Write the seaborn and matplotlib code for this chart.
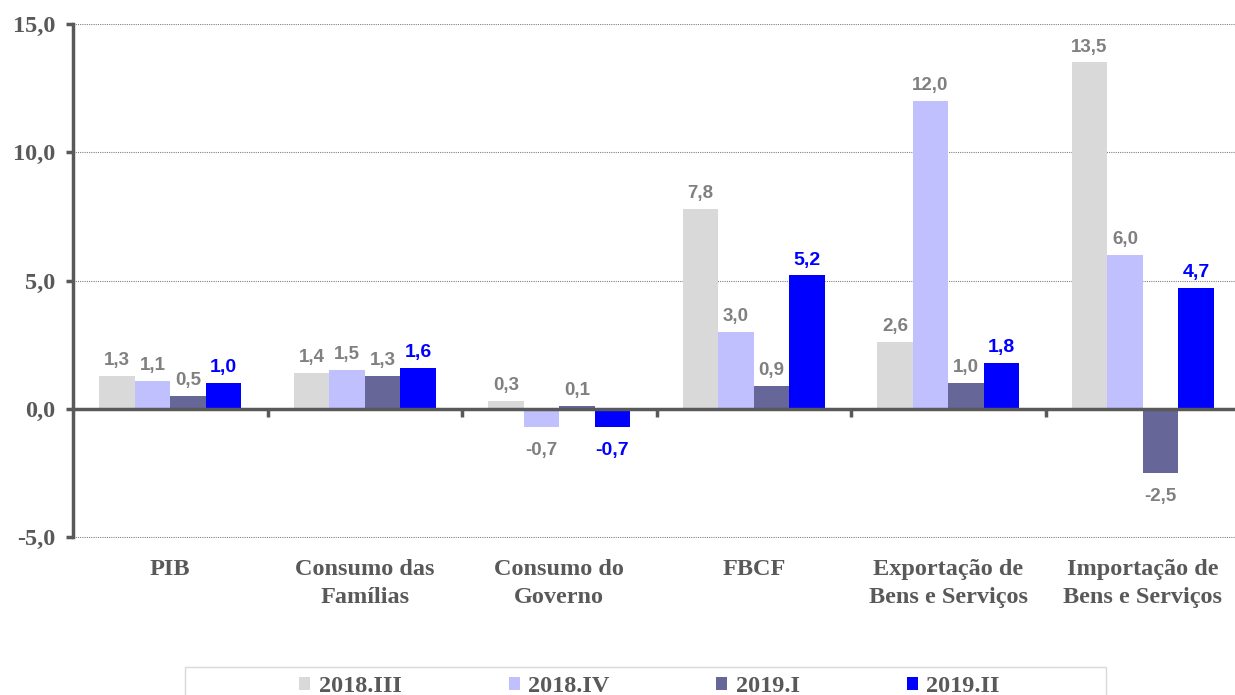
import seaborn as sns
import pandas as pd
import numpy as np
import matplotlib.pyplot as plt
from matplotlib.patches import Patch, Rectangle

sns.set_theme(style='white')
plt.rcParams['font.family'] = ['Liberation Serif', 'DejaVu Serif']

# data (variação %, trimestre contra trimestre anterior)
categorias = ['PIB', 'Consumo das\nFamílias', 'Consumo do\nGoverno', 'FBCF',
              'Exportação de\nBens e Serviços', 'Importação de\nBens e Serviços']
series = ['2018.III', '2018.IV', '2019.I', '2019.II']
v_2018_III = [1.3, 1.4, 0.3, 7.8, 2.6, 13.5]
v_2018_IV = [1.1, 1.5, -0.7, 3.0, 12.0, 6.0]
v_2019_I = [0.5, 1.3, 0.1, 0.9, 1.0, -2.5]
v_2019_II = [1.0, 1.6, -0.7, 5.2, 1.8, 4.7]
cores = ['#D9D9D9', '#C0C0FF', '#666699', '#0000FF']
y_ticks = [-5, 0, 5, 10, 15]

df = pd.DataFrame({
    'categoria': categorias * 4,
    'serie': np.repeat(series, len(categorias)),
    'valor': v_2018_III + v_2018_IV + v_2019_I + v_2019_II,
})

cinza = '#595959'
fig = plt.figure(figsize=(12.35, 6.95), dpi=100)
ax = fig.add_axes([73/1235, 1-538/695, 6*194.5/1235, (538-24)/695])

sns.barplot(data=df, x='categoria', y='valor', hue='serie', hue_order=series,
            palette=cores, width=0.73, saturation=1, errorbar=None,
            legend=False, linewidth=0, ax=ax)

# bar labels, decimal comma; negatives sit a bit further below the bar
for cont, s in zip(ax.containers, series):
    vals = [b.get_height() for b in cont]
    azul = s == '2019.II'
    kw = dict(color='#0000FF' if azul else '#808080',
              fontsize=14 if azul else 13.5, fontweight='bold',
              family='Liberation Sans')
    pos = [f'{v:.1f}'.replace('.', ',') if v >= 0 else '' for v in vals]
    neg = [f'{v:.1f}'.replace('.', ',') if v < 0 else '' for v in vals]
    ax.bar_label(cont, labels=pos, padding=5, **kw)
    ax.bar_label(cont, labels=neg, padding=11, **kw)

ax.set_ylim(-5.03, 15)
ax.set_xlim(-0.5, 5.5)
ax.set_yticks(y_ticks)
ax.set_yticklabels([f'{t:.1f}'.replace('.', ',') for t in y_ticks],
                   fontsize=17.5, fontweight='bold', color=cinza)
ax.tick_params(axis='y', direction='out', length=5, width=2.5, color=cinza,
               left=True, pad=8)

# x axis line at zero, boundary ticks between groups, labels at bottom
ax.spines['bottom'].set_position(('data', 0))
ax.spines['bottom'].set_color(cinza)
ax.spines['bottom'].set_linewidth(2.5)
ax.spines['left'].set_color(cinza)
ax.spines['left'].set_linewidth(2.5)
ax.spines['left'].set_bounds(-5, 15)
ax.spines['top'].set_visible(False)
ax.spines['right'].set_visible(False)
ax.set_xticks(np.arange(len(categorias) - 1) + 0.5)
ax.set_xticklabels([])
ax.tick_params(axis='x', which='major', direction='out', length=6, width=2.5,
               color=cinza, bottom=True)
ax.set_xticks(np.arange(len(categorias)), minor=True)
ax.set_xticklabels(categorias, minor=True, fontsize=17.5, fontweight='bold',
                   color=cinza, linespacing=1.45)
ax.tick_params(axis='x', which='minor', length=0, pad=108)
ax.set_xlabel('')
ax.set_ylabel('')

ax.set_axisbelow(True)
ax.yaxis.grid(True, linestyle=(0, (1, 1)), color='#808080', linewidth=0.8)

# legend
handles = [Patch(facecolor=c, edgecolor='none') for c in cores]
fig.legend(handles, series, loc='center', bbox_to_anchor=(0.526, 0.012),
           ncol=4, frameon=False, handlelength=0.45, handleheight=0.45,
           handletextpad=0.35, columnspacing=4.4,
           prop={'family': 'Liberation Serif', 'weight': 'bold', 'size': 17.5},
           labelcolor=cinza)
fig.patches.append(Rectangle((185/1235, -0.05), 921/1235, 0.05 + 1 - 667/695,
                             transform=fig.transFigure, fill=False,
                             edgecolor='#D9D9D9', linewidth=1))

fig.savefig('out.png', dpi=100)
